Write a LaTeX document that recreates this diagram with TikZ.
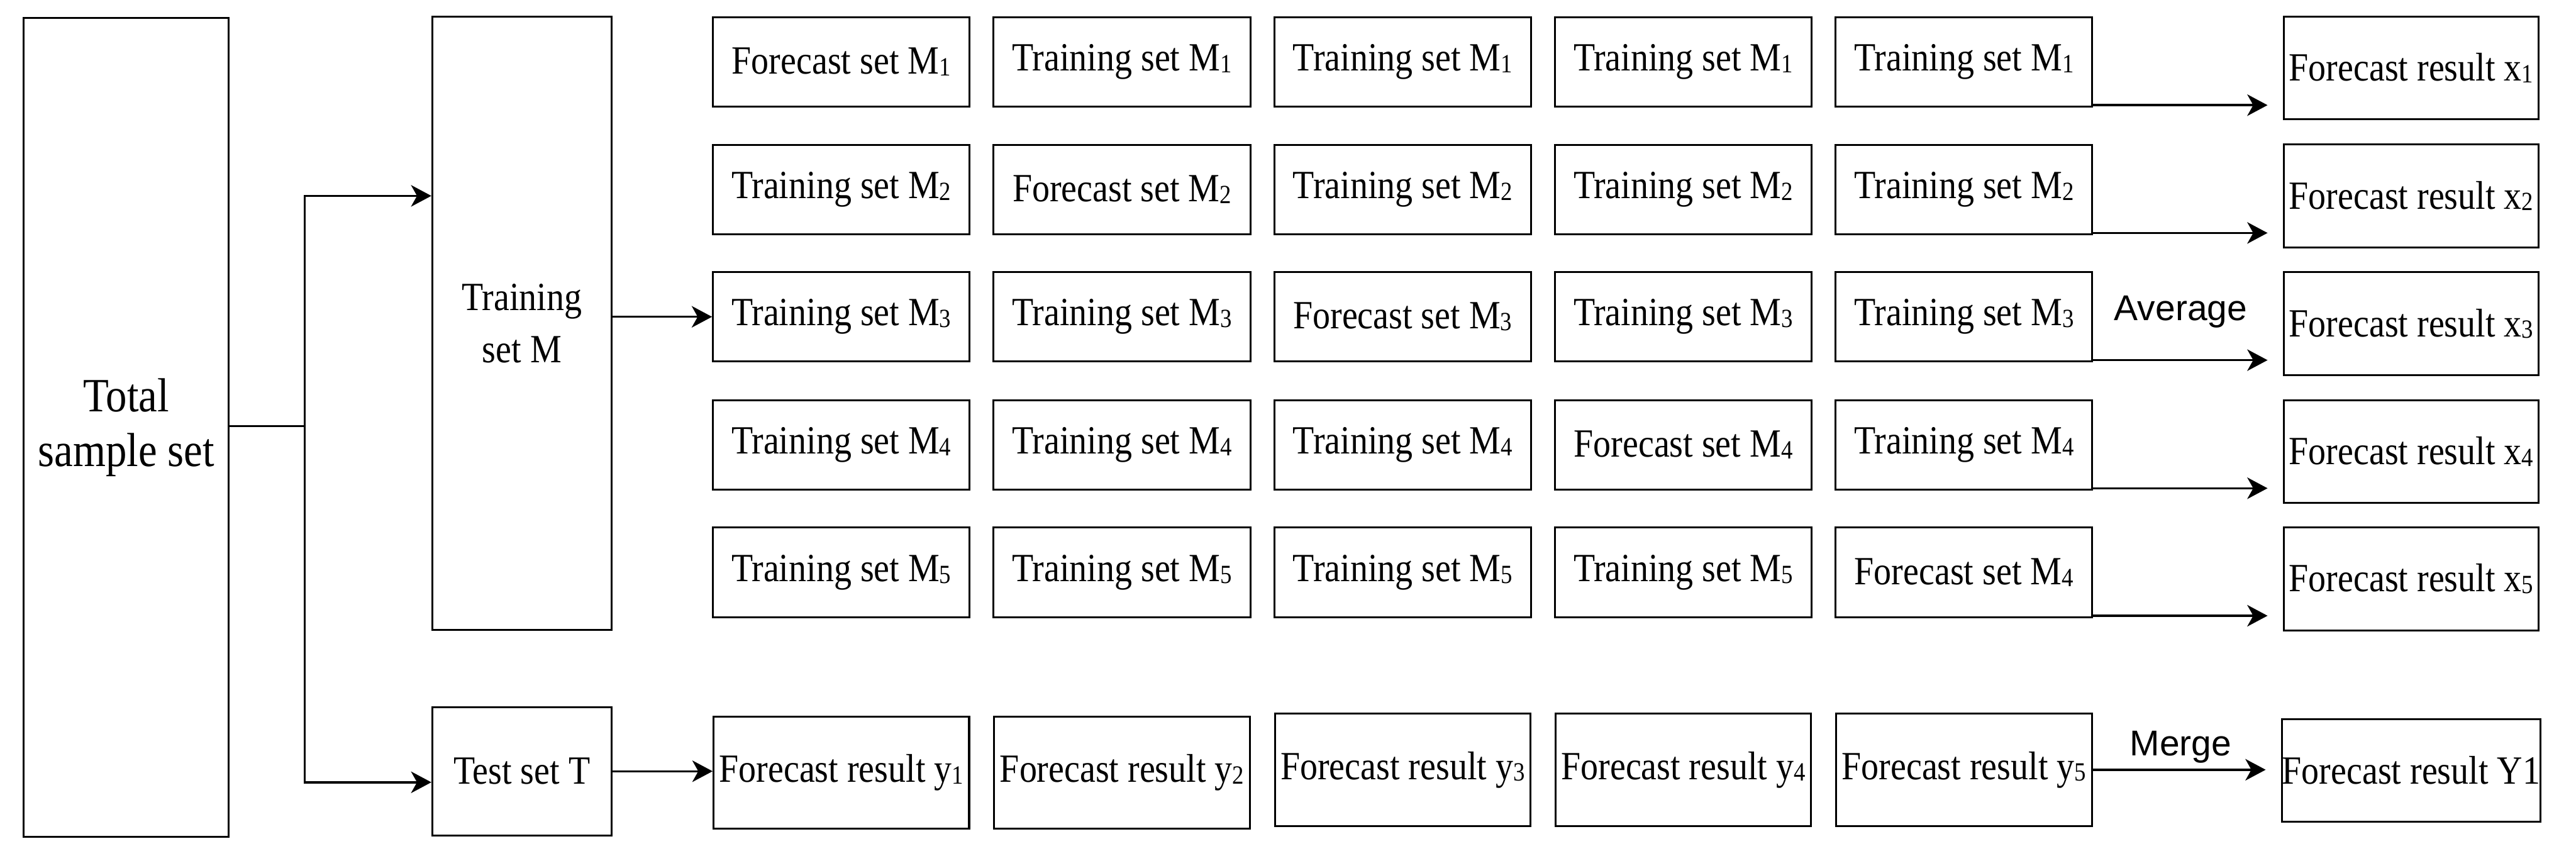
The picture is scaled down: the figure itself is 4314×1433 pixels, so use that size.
\documentclass[tikz,border=0pt]{standalone}
\usepackage{fontspec}
\setmainfont[FakeStretch=0.88]{Liberation Serif}
\newfontfamily\sansf{Liberation Sans}
\usetikzlibrary{arrows.meta}
\newcommand\ssub[1]{\raisebox{-0.1ex}{\fontsize{11}{11}\selectfont #1}}
\begin{document}
\begin{tikzpicture}[x=0.25pt, y=-0.25pt,
  box/.style={draw, line width=0.8pt, inner sep=0pt, align=center, font=\fontsize{16.75}{22}\selectfont},
  cell/.style={box, minimum width=107.5pt, minimum height=37.5pt},
  res/.style={box, minimum width=106.5pt, minimum height=43pt},
  bot/.style={box, minimum width=107pt, minimum height=47pt},
  conn/.style={line width=0.9pt},
  arr/.style={conn, -{Stealth[length=8.5pt,width=9pt,inset=2.5pt]}},
  lbl/.style={font=\sansf\fontsize{15}{17}\selectfont, inner sep=0pt, anchor=base}]
\useasboundingbox (0,0) rectangle (4314,1433);

% left column
\node[box, minimum width=85.75pt, minimum height=342.75pt, font=\fontsize{20}{23}\selectfont] (total) at (211.5,716) {Total\\sample set};
\node[box, minimum width=75pt, minimum height=256.75pt] (tm) at (874,541.5) {Training\\set M};
\node[box, minimum width=75pt, minimum height=53.75pt] (tt) at (874,1291.5) {Test set T};

% grid row 1
\node[cell] (c11) at (1409,103.5) {Forecast set M\ssub{1}};
\node[cell] (c12) at (1879,103.5) {Training set M\ssub{1}};
\node[cell] (c13) at (2349,103.5) {Training set M\ssub{1}};
\node[cell] (c14) at (2819,103.5) {Training set M\ssub{1}};
\node[cell] (c15) at (3289,103.5) {Training set M\ssub{1}};
% row 2
\node[cell] (c21) at (1409,317.5) {Training set M\ssub{2}};
\node[cell] (c22) at (1879,317.5) {Forecast set M\ssub{2}};
\node[cell] (c23) at (2349,317.5) {Training set M\ssub{2}};
\node[cell] (c24) at (2819,317.5) {Training set M\ssub{2}};
\node[cell] (c25) at (3289,317.5) {Training set M\ssub{2}};
% row 3
\node[cell] (c31) at (1409,530.5) {Training set M\ssub{3}};
\node[cell] (c32) at (1879,530.5) {Training set M\ssub{3}};
\node[cell] (c33) at (2349,530.5) {Forecast set M\ssub{3}};
\node[cell] (c34) at (2819,530.5) {Training set M\ssub{3}};
\node[cell] (c35) at (3289,530.5) {Training set M\ssub{3}};
% row 4
\node[cell] (c41) at (1409,745) {Training set M\ssub{4}};
\node[cell] (c42) at (1879,745) {Training set M\ssub{4}};
\node[cell] (c43) at (2349,745) {Training set M\ssub{4}};
\node[cell] (c44) at (2819,745) {Forecast set M\ssub{4}};
\node[cell] (c45) at (3289,745) {Training set M\ssub{4}};
% row 5
\node[cell] (c51) at (1409,958.5) {Training set M\ssub{5}};
\node[cell] (c52) at (1879,958.5) {Training set M\ssub{5}};
\node[cell] (c53) at (2349,958.5) {Training set M\ssub{5}};
\node[cell] (c54) at (2819,958.5) {Training set M\ssub{5}};
\node[cell] (c55) at (3289,958.5) {Forecast set M\ssub{4}};

% right column
\node[res] (r1) at (4038,114) {Forecast result x\ssub{1}};
\node[res] (r2) at (4038,328) {Forecast result x\ssub{2}};
\node[res] (r3) at (4038,542) {Forecast result x\ssub{3}};
\node[res] (r4) at (4038,756) {Forecast result x\ssub{4}};
\node[res] (r5) at (4038,969.5) {Forecast result x\ssub{5}};

% bottom row
\node[bot] (b1) at (1409,1294) {Forecast result y\ssub{1}};
\node[bot] (b2) at (1879,1294) {Forecast result y\ssub{2}};
\node[bot] (b3) at (2349,1289) {Forecast result y\ssub{3}};
\node[bot] (b4) at (2819,1289) {Forecast result y\ssub{4}};
\node[bot] (b5) at (3289,1289) {Forecast result y\ssub{5}};
\node[res] (ry) at (4038,1290) {Forecast result Y1};

% connectors from total
\coordinate (j) at (510,713.5);
\coordinate (jt) at (510,328);
\coordinate (jb) at (510,1310);
\draw[conn] (total.east |- j) -- (j);
\draw[arr] (j) -- (jt) -- (tm.west |- jt);
\draw[arr] (j) -- (jb) -- (tt.west |- jb);

\draw[arr] (c31.west -| tm.east) -- (c31.west);
\draw[arr] (tt.east) -- (tt.east -| b1.west);

% row arrows
\foreach \i in {1,...,5}{
  \draw[arr, shorten >=6.5pt] ([yshift=1pt]c\i5.south east) -- ([yshift=1pt]c\i5.south east -| r\i.west);
}
\draw[arr, shorten >=6.5pt] (b5.east) -- (b5.east -| ry.west);

\node[lbl] (avg) at (3652,537) {Average};
\node[lbl] (mrg) at (3652,1265) {Merge};
\end{tikzpicture}
\end{document}
